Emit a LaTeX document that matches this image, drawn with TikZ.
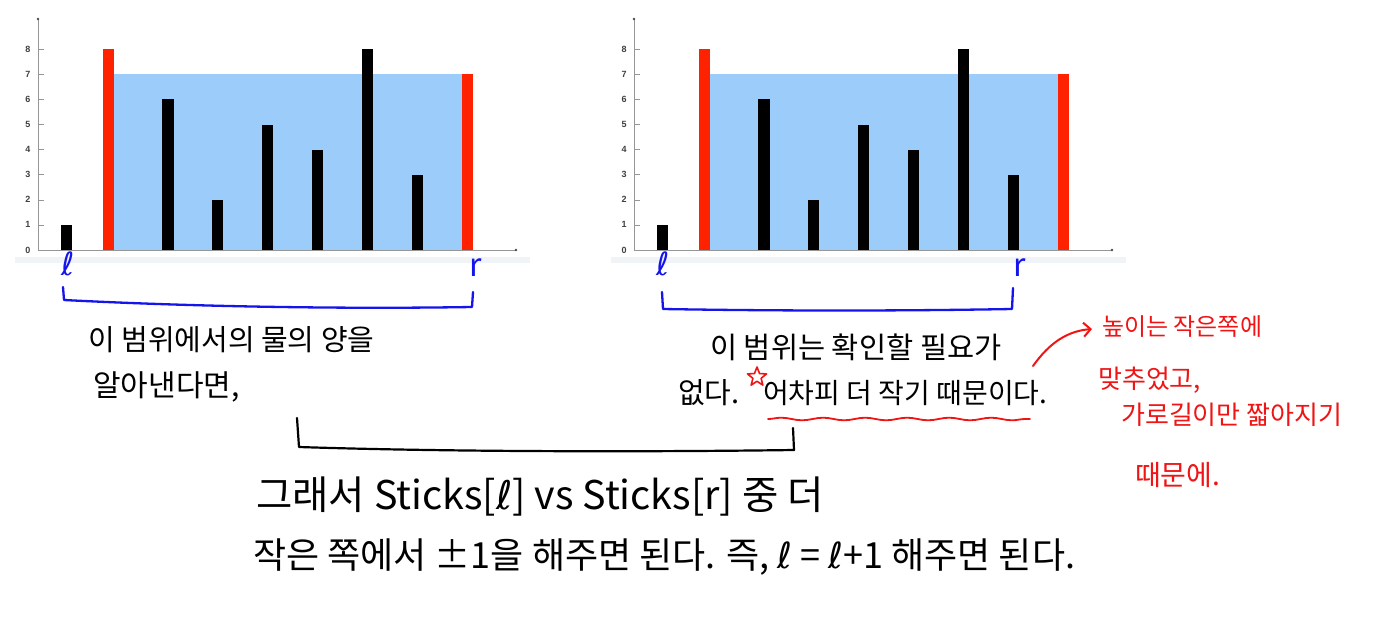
\documentclass[tikz,border=0pt]{standalone}
\usepackage{fontspec}
\setmainfont{Noto Sans CJK KR}
\newfontfamily\numfont{Liberation Sans}
\newfontfamily\ellfont{DejaVu Sans}
\usetikzlibrary{arrows.meta,decorations.pathmorphing}
\definecolor{barred}{RGB}{255,34,0}
\definecolor{water}{RGB}{156,204,250}
\definecolor{axisgray}{RGB}{150,150,150}
\definecolor{band}{RGB}{241,244,247}
\definecolor{penblue}{RGB}{20,20,235}
\definecolor{penred}{RGB}{240,20,20}
\newcommand\ELL{{\ellfont ℓ}}
\tikzset{
  axisline/.style={axisgray,line width=0.9pt},
  ticklab/.style={font=\numfont\bfseries\fontsize{9}{9}\selectfont,text=black!75,inner sep=0pt},
  bluepen/.style={penblue,line width=2.3pt,line cap=round,line join=round},
  blackpen/.style={black,line width=2.2pt,line cap=round,line join=round},
  redpen/.style={penred,line width=1.8pt,line cap=round,line join=round},
  handblack/.style={anchor=west,inner sep=0pt,text=black},
  handred/.style={anchor=west,inner sep=0pt,text=penred},
  penmark/.style={inner sep=0pt,text=penblue}
}
\begin{document}
\begin{tikzpicture}[x=1pt,y=-1pt]
\useasboundingbox (0,0) rectangle (1375,629);
\fill[white] (0,0) rectangle (1375,629);
% ---------- two charts ----------
\foreach \ox/\nm in {0/L,596/R}{
\begin{scope}[xshift=\ox pt]
  \fill[band] (15,257) rectangle (530,263);
  \fill[water] (114,74.3) rectangle (461.7,250);
  \foreach \c/\h/\col [count=\k] in {66.5/1/black,108.3/8/barred,168/6/black,217.7/2/black,267.7/5/black,317.7/4/black,367.7/8/black,417.3/3/black,467.5/7/barred}{
    \fill[\col] ({\c-5.75},250) rectangle ({\c+5.75},{250-25.1*\h});
  }
  \draw[axisline] (38,19) -- (38,250) -- (516,250);
  \fill[black!70] (38,19) circle (1.3);
  \fill[black!70] (516,250) circle (1.3);
  \foreach \i in {0,...,8}{
    \draw[axisline,line width=0.6pt] (38,{250-25.1*\i}) -- (44,{250-25.1*\i});
    \node[ticklab] (lab\nm\i) at (28,{250-25.1*\i}) {\i};
  }
\end{scope}
}
% ---------- blue l / r marks ----------
\node[penmark,font=\fontsize{32}{32}\selectfont] (lL) at (68,264) {\ELL};
\node[penmark,font=\fontsize{32}{32}\selectfont] (rL) at (476,268) {r};
\node[penmark,font=\fontsize{32}{32}\selectfont] (lR) at (663,264) {\ELL};
\node[penmark,font=\fontsize{32}{32}\selectfont] (rR) at (1020,268) {r};
% ---------- blue brackets ----------
\coordinate (bl1) at (63,287);
\coordinate (bl2) at (64,300);
\coordinate (bl3) at (472,307);
\coordinate (bl4) at (473,292);
\draw[bluepen] (bl1) -- (bl2) .. controls (200,307) and (350,309) .. (bl3) -- (bl4);
\coordinate (br1) at (662,292);
\coordinate (br2) at (663,309);
\coordinate (br3) at (1012,309);
\coordinate (br4) at (1013,288);
\draw[bluepen] (br1) -- (br2) .. controls (780,311) and (900,311) .. (br3) -- (br4);
% ---------- black text under charts ----------
\node[handblack,font=\fontsize{29}{29}\selectfont] (t1) at (88,340) {이 범위에서의 물의 양을};
\node[handblack,font=\fontsize{30}{30}\selectfont] (t2) at (93,387) {알아낸다면,};
\node[handblack,font=\fontsize{29.5}{29.5}\selectfont] (t3) at (710,347) {이 범위는 확인할 필요가};
\node[handblack,font=\fontsize{29}{29}\selectfont] (t4) at (678,393) {없다.};
\node[handblack,font=\fontsize{28}{28}\selectfont] (t5) at (763,393) {어차피 더 작기 때문이다.};
\coordinate (star) at (757,377);
\draw[redpen,line width=1.6pt] (star) +(-90:10) -- +(-54:4.3) -- +(-18:10) -- +(18:4.3) -- +(54:10) -- +(90:4.3) -- +(126:10) -- +(162:4.3) -- +(198:10) -- +(234:4.3) -- cycle;
\draw[redpen,decorate,decoration={snake,amplitude=1.3pt,segment length=42pt}] (768,419) -- (1030,419);
% ---------- red arrow and note ----------
\coordinate (aS) at (1033,366);
\coordinate (aE) at (1092,329);
\draw[redpen,line width=2pt,-{Straight Barb[length=7pt,width=14pt]}] (aS) .. controls (1050,342) and (1068,331) .. (aE);
\node[handred,font=\fontsize{24}{24}\selectfont] (r1) at (1102,327) {높이는 작은쪽에};
\node[handred,font=\fontsize{26}{26}\selectfont] (r2) at (1098,380) {맞추었고,};
\node[handred,font=\fontsize{26}{26}\selectfont] (r3) at (1121,415) {가로길이만 짧아지기};
\node[handred,font=\fontsize{28}{28}\selectfont] (r4) at (1135,475) {때문에.};
% ---------- black bracket ----------
\coordinate (k1) at (297,418);
\coordinate (k2) at (299,447);
\coordinate (k3) at (794,450);
\coordinate (k4) at (793,428);
\draw[blackpen] (k1) -- (k2) .. controls (450,452) and (650,452) .. (k3) -- (k4);
% ---------- bottom lines ----------
\node[handblack,font=\fontsize{39.5}{39.5}\selectfont] (b1) at (256,497) {그래서 Sticks[\ELL] vs Sticks[r] 중 더};
\node[handblack,font=\fontsize{36}{36}\selectfont] (b2) at (253,557) {작은 쪽에서 ±1을 해주면 된다. 즉, \ELL\ = \ELL+1 해주면 된다.};
\end{tikzpicture}
\end{document}
